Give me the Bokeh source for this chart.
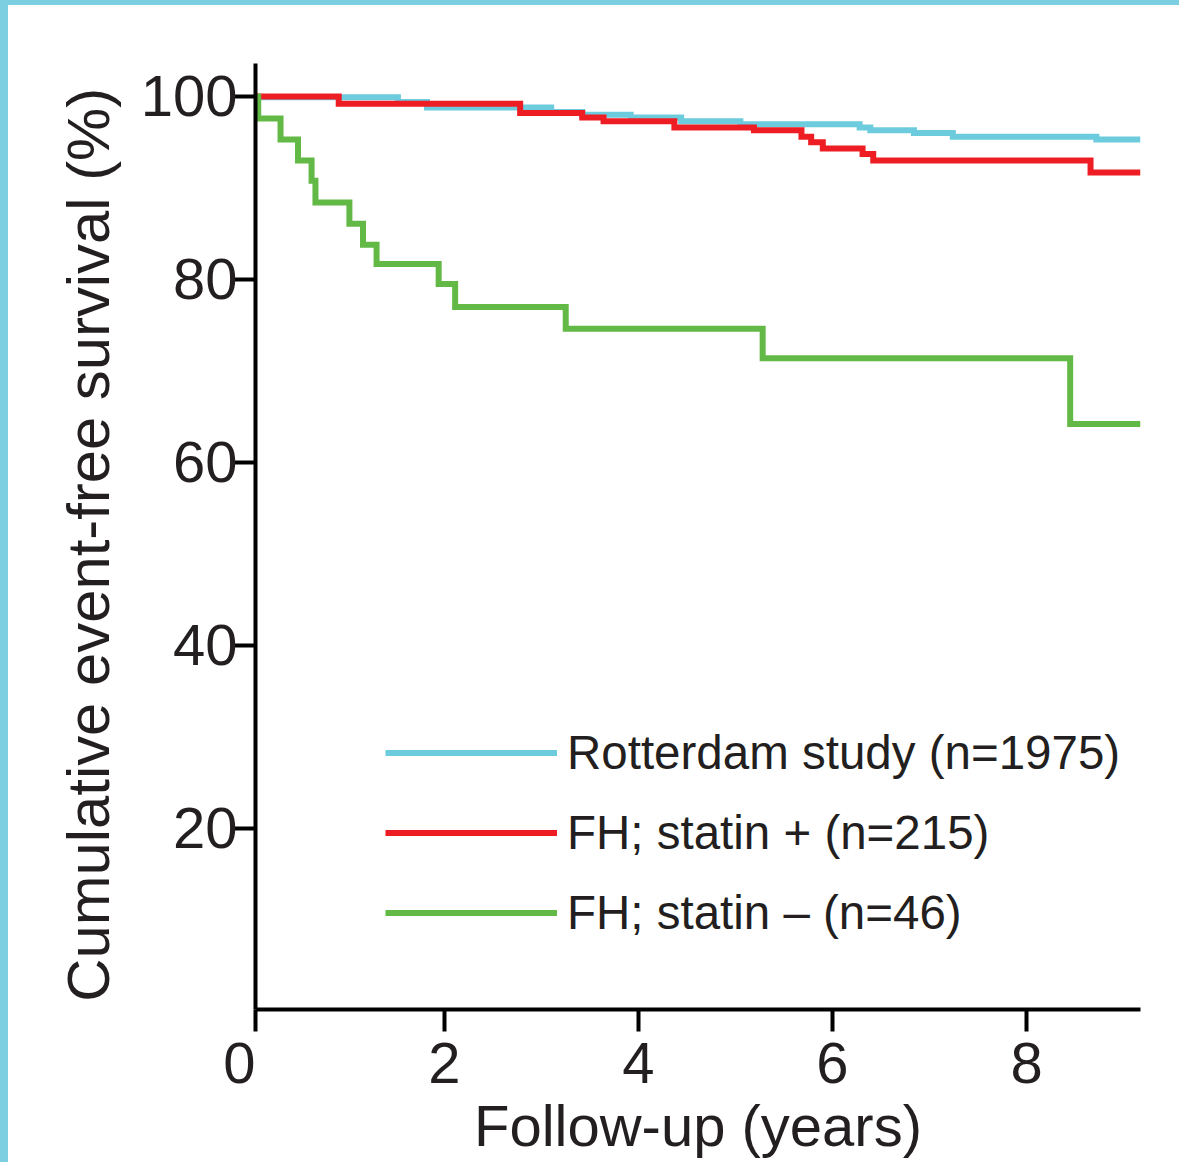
from bokeh.plotting import figure
from bokeh.models import Range1d, FixedTicker, Legend, LegendItem
from bokeh.embed import file_html
from bokeh.resources import INLINE

# ---- data (years, cumulative event-free survival %) ----
rotterdam_years = [0, 1.52, 1.82, 3.10, 3.42, 3.92, 4.44, 5.05, 6.28, 6.39, 6.84, 7.24, 8.72, 9.175]
rotterdam_surv = [99.9, 99.4, 98.8, 98.3, 98.0, 97.7, 97.3, 96.95, 96.6, 96.3, 96.0, 95.6, 95.3, 95.3]

statin_pos_years = [0, 0.91, 2.78, 3.42, 3.64, 4.37, 5.19, 5.68, 5.78, 5.90, 6.31, 6.42, 8.66, 9.175]
statin_pos_surv = [100, 99.2, 98.2, 97.7, 97.3, 96.6, 96.3, 95.6, 95.0, 94.3, 93.7, 93.0, 91.7, 91.7]

statin_neg_years = [0, 0.08, 0.31, 0.49, 0.63, 0.67, 1.02, 1.16, 1.30, 1.94, 2.11, 3.25, 5.28, 8.45, 9.175]
statin_neg_surv = [100, 97.6, 95.3, 93.0, 90.8, 88.4, 86.1, 83.8, 81.7, 79.5, 77.0, 74.6, 71.4, 64.2, 64.2]

series_labels = ["Rotterdam study (n=1975)", "FH; statin + (n=215)", "FH; statin \u2013 (n=46)"]
series_colors = ["#6CCBDC", "#EE1D24", "#62B946"]

X_START = 0.052
x_ticks = [X_START + 0.0001, 2, 4, 6, 8]
x_tick_labels = {X_START + 0.0001: "0\u00a0\u00a0", 2: "2", 4: "4", 6: "6", 8: "8"}
y_ticks = [20, 40, 60, 80, 100]
x_title = "Follow-up (years)"
y_title = "Cumulative event-free survival (%)\u00a0"

FONT = "Liberation Sans"
TXT = "#231F20"

p = figure(width=1179, height=1162,
           x_range=Range1d(X_START, 9.175), y_range=Range1d(0.22, 103.6),
           output_backend="svg", toolbar_location=None,
           min_border_left=247, min_border_right=47,
           min_border_top=58, min_border_bottom=158)
p.styles = {"border-left": "8px solid #7BCFE0", "border-top": "5px solid #7BCFE0"}
p.outline_line_color = None
p.xgrid.visible = False
p.ygrid.visible = False
p.background_fill_color = "white"
p.border_fill_color = "white"

for ax in (p.xaxis, p.yaxis):
    ax.axis_line_width = 4
    ax.axis_line_color = "black"
    ax.major_tick_line_width = 4
    ax.major_tick_line_color = "black"
    ax.major_tick_out = 22
    ax.major_tick_in = 0
    ax.minor_tick_line_color = None
    ax.major_label_text_font = FONT
    ax.major_label_text_font_size = "58px"
    ax.major_label_text_color = TXT
    ax.axis_label_text_font = FONT
    ax.axis_label_text_font_style = "normal"
    ax.axis_label_text_color = TXT

p.xaxis.ticker = FixedTicker(ticks=x_ticks)
p.xaxis.major_label_overrides = x_tick_labels
p.xaxis.major_label_standoff = -2
p.xaxis.axis_label = x_title
p.xaxis.axis_label_text_font_size = "58px"
p.xaxis.axis_label_standoff = -5

p.yaxis.ticker = FixedTicker(ticks=y_ticks)
p.yaxis.major_label_standoff = -4
p.yaxis.axis_label = y_title
p.yaxis.axis_label_text_font_size = "59.8px"
p.yaxis.axis_label_standoff = 16

renderers = []
for yrs, surv, col in [(rotterdam_years, rotterdam_surv, series_colors[0]),
                       (statin_pos_years, statin_pos_surv, series_colors[1]),
                       (statin_neg_years, statin_neg_surv, series_colors[2])]:
    r = p.step(x=yrs, y=surv, mode="after", line_color=col, line_width=6,
               line_join="miter", line_cap="butt")
    renderers.append(r)

legend = Legend(items=[LegendItem(label=lab, renderers=[r]) for lab, r in zip(series_labels, renderers)],
                location=(130, 58), orientation="vertical",
                glyph_width=172, glyph_height=77, spacing=3,
                label_standoff=10, padding=0, margin=0,
                label_text_font=FONT, label_text_font_size="47.5px",
                label_text_color=TXT,
                border_line_color=None, background_fill_alpha=0)
p.add_layout(legend)

open("out.html", "w").write(file_html(p, INLINE))
